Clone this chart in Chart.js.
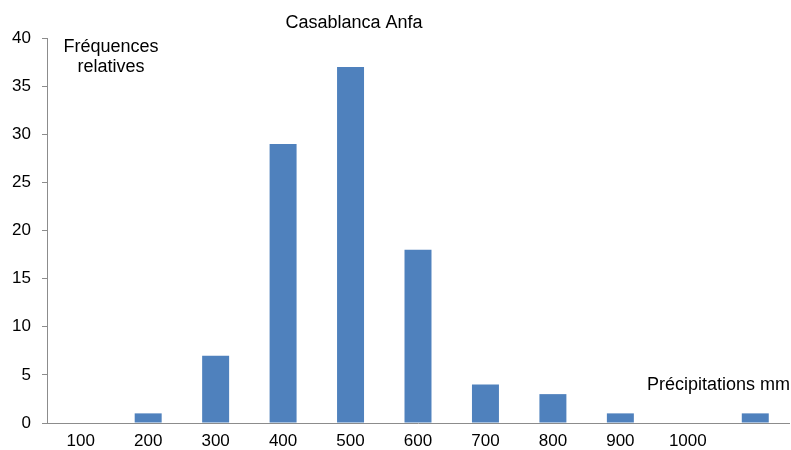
<!DOCTYPE html>
<html>
<head>
<meta charset="utf-8">
<script src="https://cdn.jsdelivr.net/npm/chart.js@4.4.0/dist/chart.umd.min.js"></script>
<style>
  html, body { margin: 0; padding: 0; background: #fff; }
  #wrap { width: 791px; height: 450px; }
</style>
</head>
<body>
<div id="wrap"><canvas id="histChart" width="791" height="450"></canvas></div>
<script>
// Data
const CATEGORIES = ['100', '200', '300', '400', '500', '600', '700', '800', '900', '1000', ''];
const FREQUENCIES = [0, 1, 7, 29, 37, 18, 4, 3, 1, 0, 1];
const Y_TICKS = [0, 5, 10, 15, 20, 25, 30, 35, 40];

const TITLE = 'Casablanca Anfa';
const Y_LABEL = ['Fréquences', 'relatives'];
const X_LABEL = 'Précipitations mm';

const FONT = 'Liberation Sans, Arial, sans-serif';
const BAR_COLOR = '#4f81bd';
const AXIS_COLOR = '#8c8c8c';

// Draws the title and the two axis captions
const textPlugin = {
    id: 'captions',
    afterDraw(chart) {
        const ctx = chart.ctx;
        ctx.save();
        ctx.fillStyle = '#000';
        ctx.font = '18px ' + FONT;
        ctx.textBaseline = 'middle';
        ctx.textAlign = 'center';
        ctx.fillText(TITLE, 354, 23);
        ctx.fillText(Y_LABEL[0], 111, 47);
        ctx.fillText(Y_LABEL[1], 111, 67);
        ctx.textAlign = 'right';
        ctx.fillText(X_LABEL, 790, 385);
        ctx.restore();
    }
};

const ctx = document.getElementById('histChart').getContext('2d');
const chart = new Chart(ctx, {
    type: 'bar',
    data: {
        labels: CATEGORIES,
        datasets: [{
            data: FREQUENCIES,
            backgroundColor: BAR_COLOR,
            borderWidth: 0,
            categoryPercentage: 1.0,
            barPercentage: 0.4
        }]
    },
    options: {
        responsive: false,
        animation: false,
        layout: { padding: { top: 38, right: 2, left: 0, bottom: 0 } },
        plugins: {
            legend: { display: false },
            tooltip: { enabled: false }
        },
        scales: {
            x: {
                grid: { display: false, drawTicks: false },
                border: { display: true, color: AXIS_COLOR, width: 1 },
                ticks: { color: '#000', font: { size: 17, family: FONT }, padding: 8, maxRotation: 0 },
                afterFit(scale) { scale.height = 27; }
            },
            y: {
                min: 0,
                max: 40,
                afterBuildTicks(scale) { scale.ticks = Y_TICKS.map(v => ({ value: v })); },
                grid: { drawOnChartArea: false, drawTicks: true, tickLength: 5, color: AXIS_COLOR },
                border: { display: true, color: AXIS_COLOR, width: 1 },
                ticks: { color: '#000', font: { size: 17, family: FONT }, padding: 11 },
                afterFit(scale) { scale.width = 47; }
            }
        }
    },
    plugins: [textPlugin]
});
</script>
</body>
</html>
